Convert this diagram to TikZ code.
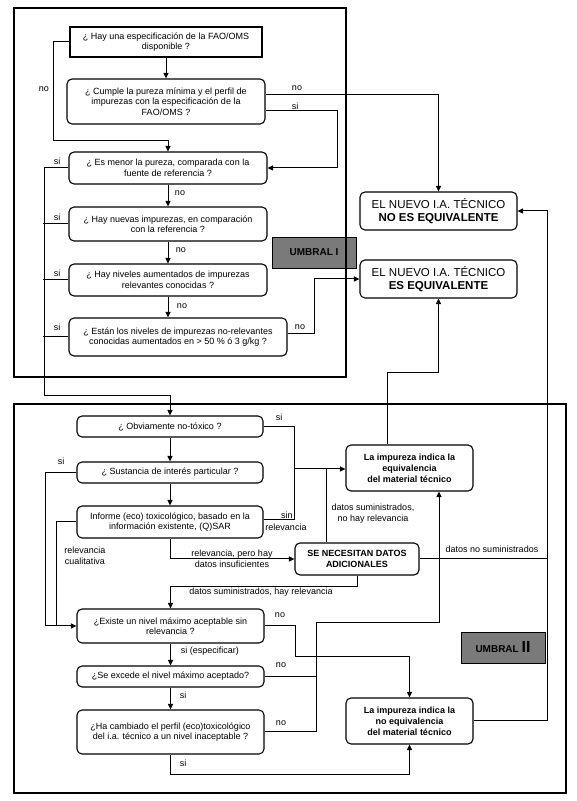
\documentclass[tikz,border=0pt]{standalone}
\usepackage{fontspec}
\setmainfont{Liberation Sans}
\usepackage{xcolor}
\usepackage{tikz}
\usetikzlibrary{arrows.meta}

\begin{document}
\begin{tikzpicture}[x=1pt,y=1pt,
  qbox/.style={draw=drawColor,line width=1.1pt,rounded corners=5pt,align=center,inner sep=0pt,font=\fontsize{9}{10.5}\selectfont},
  rbox/.style={qbox,font=\fontsize{9}{11}\selectfont\bfseries},
  ebox/.style={qbox,font=\fontsize{11.5}{12.5}\selectfont},
  ubox/.style={draw=drawColor,line width=0.7pt,fill=umbralColor,inner sep=0pt,minimum width=84,minimum height=31,font=\fontsize{10}{12}\selectfont\bfseries},
  lbl/.style={inner sep=0pt,align=center,font=\fontsize{9}{11}\selectfont},
  arr/.style={draw=drawColor,line width=1pt,-{Triangle[length=5.5pt,width=5pt]}},
  wire/.style={draw=drawColor,line width=1pt}]
\definecolor{drawColor}{RGB}{0,0,0}
\definecolor{umbralColor}{RGB}{122,122,122}

\path[use as bounding box,fill=white] (0,0) rectangle (576,801);

\node[qbox,sharp corners,minimum width=192,minimum height=30] (hay) at (166,759) {¿ Hay una especificación de la FAO/OMS\\disponible ?};

\node[qbox,minimum width=198,minimum height=45] (cumple) at (166,699.5) {¿ Cumple la pureza mínima y el perfil de\\impurezas con la especificación de la\\FAO/OMS ?};

\node[qbox,minimum width=198,minimum height=32] (menor) at (168,633) {¿ Es menor la pureza, comparada con la\\fuente de referencia ?};

\node[qbox,minimum width=198,minimum height=34] (nuevas) at (168,577) {¿ Hay nuevas impurezas, en comparación\\con la referencia ?};

\node[qbox,minimum width=198,minimum height=32] (niveles) at (168,521) {¿ Hay niveles aumentados de impurezas\\relevantes conocidas ?};

\node[qbox,minimum width=218,minimum height=38] (noRel) at (178,464) {¿ Están los niveles de impurezas no-relevantes\\conocidas aumentados en > 50 \% ó 3 g/kg ?};

\node[ubox] (umbralA) at (314,548.5) {UMBRAL I};

\node[ebox,minimum width=157,minimum height=38] (noEquiv) at (438.5,590) {EL NUEVO I.A. TÉCNICO\\\textbf{NO ES EQUIVALENTE}};

\node[ebox,minimum width=157,minimum height=38] (equiv) at (438.5,522) {EL NUEVO I.A. TÉCNICO\\\textbf{ES EQUIVALENTE}};

\node[qbox,minimum width=186,minimum height=21] (obvio) at (170,374.5) {¿ Obviamente no-tóxico ?};

\node[qbox,minimum width=186,minimum height=21] (sustancia) at (170,328.5) {¿ Sustancia de interés particular ?};

\node[qbox,minimum width=186,minimum height=32] (informe) at (170,279) {Informe (eco) toxicológico, basado en la\\información existente, (Q)SAR};

\node[rbox,minimum width=127,minimum height=46] (indicaEq) at (409.5,333) {La impureza indica la\\equivalencia\\del material técnico};

\node[rbox,minimum width=124,minimum height=32] (datos) at (357,242) {SE NECESITAN DATOS\\ADICIONALES};

\node[qbox,minimum width=187,minimum height=34] (existe) at (170.5,175) {¿Existe un nivel máximo aceptable sin\\relevancia ?};

\node[qbox,minimum width=187,minimum height=21] (excede) at (170.5,124.5) {¿Se excede el nivel máximo aceptado?};

\node[qbox,minimum width=187,minimum height=44] (cambiado) at (170.5,69) {¿Ha cambiado el perfil (eco)toxicológico\\del i.a. técnico a un nivel inaceptable ?};

\node[rbox,minimum width=127,minimum height=46] (indicaNoEq) at (409.5,80) {La impureza indica la\\no equivalencia\\del material técnico};

\node[ubox] (umbralB) at (503,153.5) {UMBRAL {\fontsize{16}{16}\selectfont II}};

\draw[draw=drawColor,line width=2pt] (14,424) rectangle (346,793);

\draw[draw=drawColor,line width=2pt] (14,8) rectangle (566,397);

\draw[arr] (hay.south) -- (cumple.north);

\draw[arr] (hay.west) -| (53,660) -| (menor.north);

\draw[arr] ([yshift=6.5]cumple.east) -| (noEquiv.north);

\draw[arr] ([yshift=-9.5]cumple.east) -| (337,633) -- (menor.east);

\draw[arr] (menor.south) -- (nuevas.north);

\draw[arr] (nuevas.south) -- (niveles.north);

\draw[arr] (niveles.south) -- (niveles.south |- noRel.north);

\draw[arr] (menor.west) -| (44,405) -| (obvio.north);

\draw[wire] (nuevas.west) -- ++(-25,0);

\draw[wire] (niveles.west) -- ++(-25,0);

\draw[wire] (noRel.west) -- ++(-25,0);

\draw[arr] ([yshift=3]noRel.east) -| (314,522) -- (equiv.west);

\node[lbl] (lNoHay) at ( 44,712) {no};

\node[lbl] (lNoCumple) at (297,713) {no};

\node[lbl] (lSiCumple) at (295,695) {si};

\node[lbl] (lNoMenor) at (180,608) {no};

\node[lbl] (lNoNuevas) at (181,551) {no};

\node[lbl] (lNoNiveles) at (182,495) {no};

\node[lbl] (lSiMenor) at ( 57,640) {si};

\node[lbl] (lSiNuevas) at ( 57,584) {si};

\node[lbl] (lSiNiveles) at ( 57,528) {si};

\node[lbl] (lSiNoRel) at ( 57,474) {si};

\node[lbl] (lNoNoRel) at (300,474) {no};

\coordinate (jSin) at (294,332);

\coordinate (jNo) at (316,178);

\draw[arr] (obvio.south) -- (sustancia.north);

\draw[arr] (sustancia.south) -- (informe.north);

\draw[wire] (obvio.east) -| (294,281) -- ([yshift=2]informe.east);

\draw[arr] (jSin) -- (indicaEq.west |- jSin);

\draw[wire] ([xshift=-31]datos.north) -- ([xshift=-31]datos.north |- jSin);

\draw[arr] (informe.south) |- (datos.west);

\draw[arr] (datos.south) -- ++(0,-11) -| (existe.north);

\draw[wire] (datos.east) -- ++(128,0);

\draw[arr] (indicaNoEq.east) -- ++(74,0) |- (noEquiv.east);

\draw[arr] ([xshift=-22.5]indicaEq.north) -- ++(0,72) -| (equiv.south);

\draw[arr] (existe.east) -| (295,144) -| (indicaNoEq.north);

\draw[arr] (cambiado.east) -| (jNo) -| ([xshift=29.5]indicaEq.south);

\draw[wire] (excede.east) -- (excede.east -| jNo);

\draw[arr] (existe.south) -- (excede.north);

\draw[arr] (excede.south) -- (cambiado.north);

\draw[arr] (cambiado.south) -- ++(0,-20) -| (indicaNoEq.south);

\draw[arr] (sustancia.west) -| (45,175) -- (existe.west);

\draw[wire] (informe.west) -| (56,175);

\node[lbl] (lSiObvio) at (279,384) {si};

\node[lbl] (lSin) at (287,286) {sin};

\node[lbl] (lSinRel) at (286,274) {relevancia};

\node[lbl] (lSumNo) at (373,287.5) {datos suministrados,\\no hay relevancia};

\node[lbl] (lPero) at (232,242) {relevancia, pero hay\\datos insuficientes};

\node[lbl] (lSumHay) at (261,209) {datos suministrados, hay relevancia};

\node[lbl] (lNoSum) at (492,252) {datos no suministrados};

\node[lbl] (lNoExiste) at (280,186) {no};

\node[lbl] (lNoExcede) at (281,136) {no};

\node[lbl] (lNoCambiado) at (281,78) {no};

\node[lbl] (lEspec) at (210,150) {si (especificar)};

\node[lbl] (lSiExcede) at (183,106) {si};

\node[lbl] (lSiCambiado) at (183,38) {si};

\node[lbl] (lSiSust) at ( 61,340) {si};

\node[lbl] (lCualit) at ( 85,245) {relevancia\\cualitativa};
\end{tikzpicture}
\end{document}
